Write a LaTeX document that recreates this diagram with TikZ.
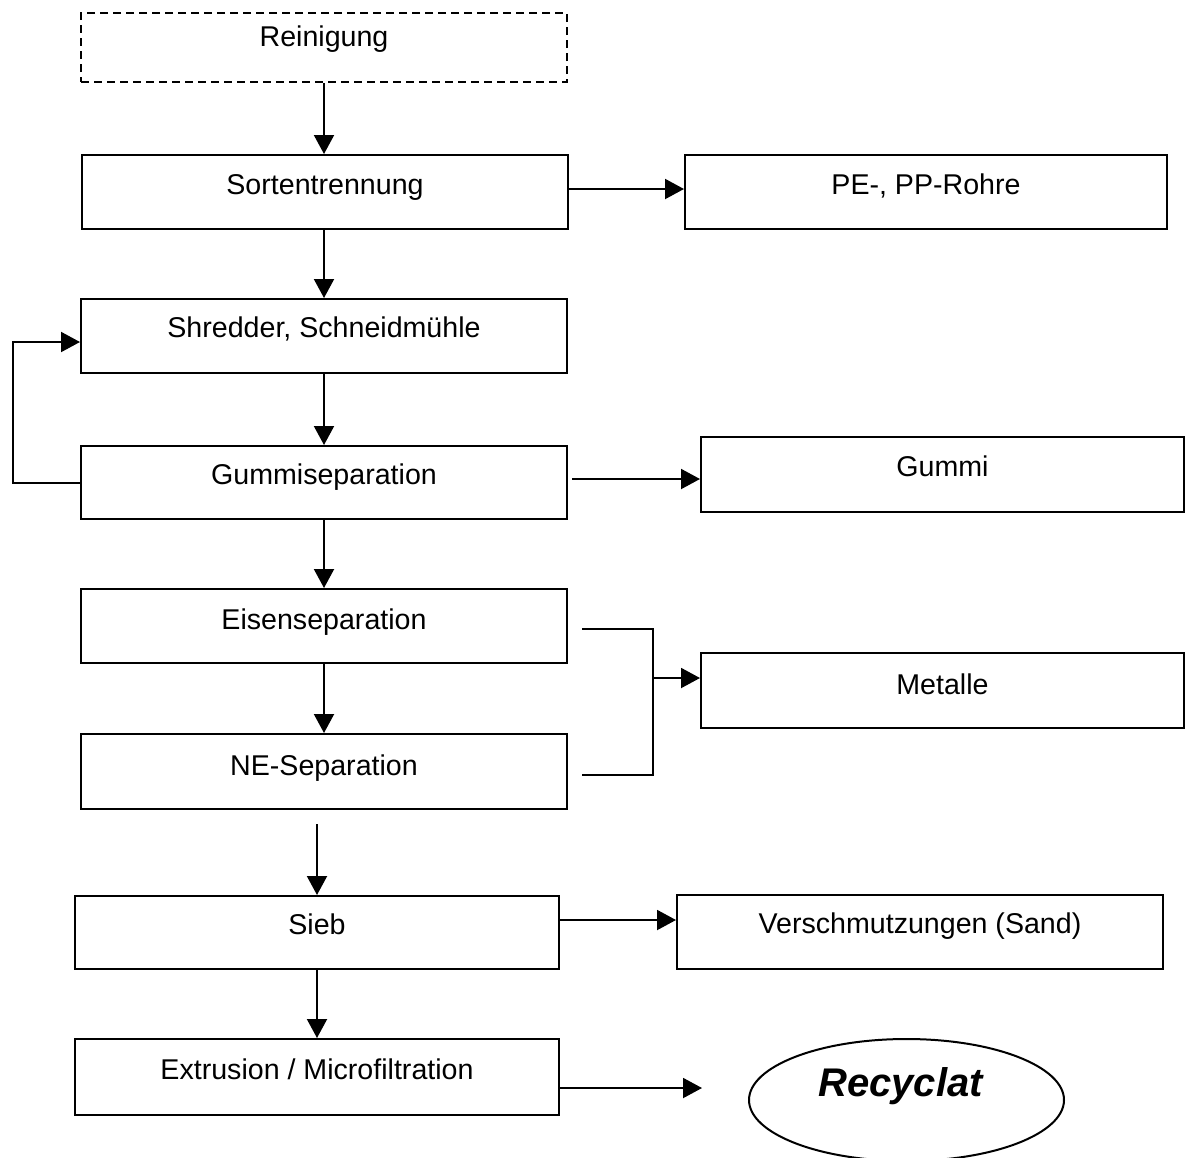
\documentclass[tikz,border=0pt]{standalone}
\usepackage{fontspec}
\setmainfont{Liberation Sans}
\usetikzlibrary{arrows.meta,shapes.geometric}

\tikzset{
  box/.style={draw, line width=2pt, rectangle, inner sep=0pt,
              minimum width=486pt, minimum height=74pt},
  dashbox/.style={box, dash pattern=on 8pt off 5pt},
  txt/.style={font=\fontsize{28.6}{34}\selectfont, text height=20.5pt,
              text depth=0pt, inner sep=0pt},
  bigtxt/.style={font=\fontsize{40}{46}\selectfont\bfseries\itshape,
                 text height=28pt, text depth=0pt, inner sep=0pt},
  flow/.style={line width=2pt, -{Triangle[length=19pt,width=20pt]}},
  link/.style={line width=2pt},
}

\begin{document}
\begin{tikzpicture}[x=1pt, y=-1pt]
  \useasboundingbox (0,0) rectangle (1188,1157);
  \clip (0,0) rectangle (1188,1157);
  \fill[white] (0,0) rectangle (1188,1157);

  % process chain (left column)
  \node[dashbox, minimum height=69pt,
        label={[txt, yshift=11pt]center:Reinigung}] (rein) at (324,47.5) {};
  \node[box, label={[txt, yshift=8pt]center:Sortentrennung}] (sort) at (325,192) {};
  \node[box, label={[txt, yshift=9pt]center:Shredder, Schneidmühle}] (shred) at (324,336) {};
  \node[box, minimum height=73pt,
        label={[txt, yshift=8.5pt]center:Gummiseparation}] (gsep) at (324,482.5) {};
  \node[box, label={[txt, yshift=7pt]center:Eisenseparation}] (eisen) at (324,626) {};
  \node[box, minimum height=75pt,
        label={[txt, yshift=6.5pt]center:NE-Separation}] (ne) at (324,771.5) {};
  \node[box, minimum width=484pt, minimum height=73pt,
        label={[txt, yshift=8.5pt]center:Sieb}] (sieb) at (317,932.5) {};
  \node[box, minimum width=484pt, minimum height=76pt,
        label={[txt, yshift=8pt]center:Extrusion / Microfiltration}] (extr) at (317,1077) {};

  % separated fractions (right column)
  \node[box, minimum width=482pt,
        label={[txt, yshift=8pt]center:PE-, PP-Rohre}] (pe) at (926,192) {};
  \node[box, minimum width=483pt, minimum height=75pt,
        label={[txt, yshift=8.5pt]center:Gummi}] (gummi) at (942.5,474.5) {};
  \node[box, minimum width=483pt, minimum height=75pt,
        label={[txt, yshift=6.5pt]center:Metalle}] (metalle) at (942.5,690.5) {};
  \node[box, minimum width=486pt,
        label={[txt, yshift=8.5pt]center:Verschmutzungen (Sand)}] (versch) at (920,932) {};
  \node[draw, line width=2pt, ellipse, inner sep=0pt,
        minimum width=315pt, minimum height=122pt,
        label={[bigtxt, xshift=-6pt, yshift=18pt]center:Recyclat}] (recy) at (906.5,1100) {};

  % helper points
  \coordinate (loopx) at (13,0);
  \coordinate (jn) at (653,678);
  \coordinate (nebelow) at ([yshift=-14pt]ne.south);
  \coordinate (rin) at ([xshift=-46pt]recy.west);

  % main flow
  \draw[flow] (rein.south) -- (rein.south |- sort.north);
  \draw[flow] (shred.north |- sort.south) -- (shred.north);
  \draw[flow] (shred.south) -- (gsep.north);
  \draw[flow] (gsep.south) -- (eisen.north);
  \draw[flow] (eisen.south) -- (ne.north);
  \draw[flow] (nebelow -| sieb.north) -- (sieb.north);
  \draw[flow] (sieb.south) -- (extr.north);

  % branches
  \draw[flow] ([yshift=3pt]sort.east) -- ([yshift=3pt]sort.east -| pe.west);
  \draw[flow] ([xshift=4pt,yshift=3.5pt]gsep.east) -- ([yshift=3.5pt]gsep.east -| gummi.west);
  \draw[flow] ([yshift=12.5pt]sieb.east) -- ([yshift=12.5pt]sieb.east -| versch.west);
  \draw[flow] ([yshift=-11pt]extr.east) -- ([yshift=-11pt]extr.east -| rin);

  % return loop to the shredder
  \draw[flow] (gsep.west) -- (gsep.west -| loopx) |- ([yshift=-6pt]shred.west);

  % metal fractions merged into one outlet
  \draw[link] ([xshift=14pt,yshift=-3pt]eisen.east) -| (jn);
  \draw[link] ([xshift=14pt,yshift=-3.5pt]ne.east) -| (jn);
  \draw[flow] (jn) -- (jn -| metalle.west);
\end{tikzpicture}
\end{document}
